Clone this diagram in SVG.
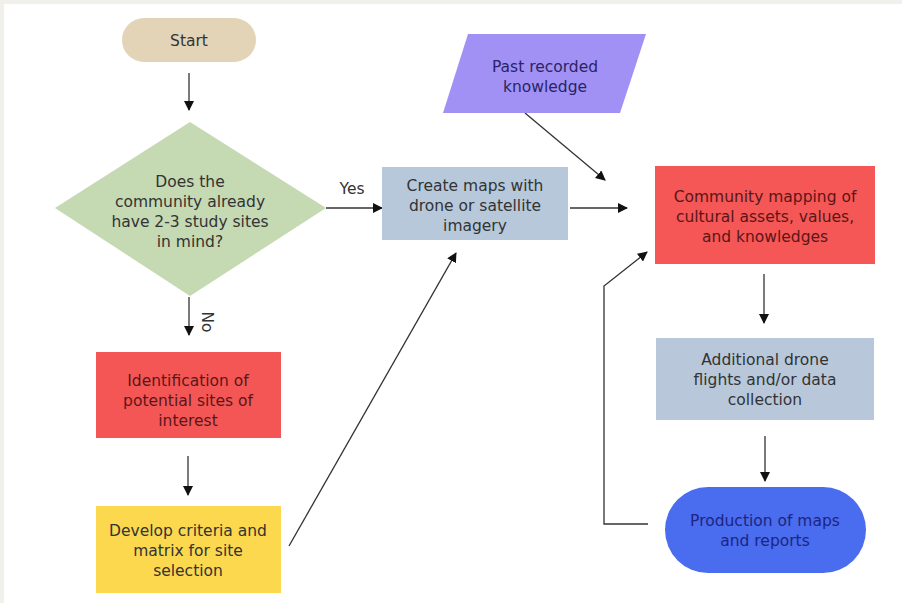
<svg xmlns="http://www.w3.org/2000/svg" width="902" height="603" viewBox="0 0 902 603">
<defs>
<marker id="ah" viewBox="0 0 10 10" refX="9" refY="5" markerWidth="10" markerHeight="10" markerUnits="userSpaceOnUse" orient="auto">
<path d="M0,0 L10,5 L0,10 z" fill="#111"/>
</marker>
<style>
.t{font-family:"DejaVu Sans",sans-serif;font-size:15.5px;text-anchor:middle;fill:#333}
.tr{fill:#5a1616}
.tp{fill:#2a2466}
.tb{fill:#1c2580}
.c{fill:none;stroke:#333;stroke-width:1.3;marker-end:url(#ah)}
</style>
</defs>
<rect x="0" y="0" width="902" height="603" fill="#f1f0eb"/>
<rect x="4" y="4" width="898" height="599" fill="#ffffff"/>
<g id="connectors">
<line class="c" x1="189" y1="73" x2="189" y2="110"/>
<line class="c" x1="326" y1="208" x2="382" y2="208"/>
<line class="c" x1="189" y1="297" x2="189" y2="335"/>
<line class="c" x1="188" y1="456" x2="188" y2="495"/>
<line class="c" x1="289" y1="546" x2="456" y2="253"/>
<line class="c" x1="525" y1="113" x2="605" y2="180"/>
<line class="c" x1="570" y1="208" x2="627" y2="208"/>
<line class="c" x1="764" y1="274" x2="764" y2="323"/>
<line class="c" x1="765" y1="436" x2="765" y2="481"/>
<polyline class="c" points="648,524 604,524 604,286 647,252"/>
<text class="t" x="352" y="194" font-size="12">Yes</text>
<text class="t" x="0" y="0" font-size="12" transform="translate(202,322) rotate(90)">No</text>
</g>
<g id="start">
<rect x="122" y="18" width="134" height="44" rx="22" fill="#e3d4b8"/>
<text class="t" x="189" y="46" font-size="16">Start</text>
</g>
<g id="decision">
<polygon points="190,122 326,208 190,296 55,208" fill="#c5d9b3"/>
<text class="t" x="190" y="187">Does the</text>
<text class="t" x="190" y="207">community already</text>
<text class="t" x="190" y="227">have 2-3 study sites</text>
<text class="t" x="190" y="247">in mind?</text>
</g>
<g id="create-maps">
<rect x="382" y="167" width="186" height="73" fill="#b6c8da"/>
<text class="t" x="475" y="191">Create maps with</text>
<text class="t" x="475" y="211">drone or satellite</text>
<text class="t" x="475" y="231">imagery</text>
</g>
<g id="identification">
<rect x="96" y="352" width="185" height="86" fill="#f45656"/>
<text class="t tr" x="188" y="386">Identification of</text>
<text class="t tr" x="188" y="406">potential sites of</text>
<text class="t tr" x="188" y="426">interest</text>
</g>
<g id="develop">
<rect x="96" y="506" width="185" height="87" fill="#fbd84e"/>
<text class="t" x="188" y="536">Develop criteria and</text>
<text class="t" x="188" y="556">matrix for site</text>
<text class="t" x="188" y="576">selection</text>
</g>
<g id="past-knowledge">
<polygon points="468,34 646,34 620,113 443,113" fill="#a191f5"/>
<text class="t tp" x="545" y="72">Past recorded</text>
<text class="t tp" x="545" y="92">knowledge</text>
</g>
<g id="community-mapping">
<rect x="655" y="166" width="220" height="98" fill="#f55656"/>
<text class="t tr" x="765" y="202">Community mapping of</text>
<text class="t tr" x="765" y="222">cultural assets, values,</text>
<text class="t tr" x="765" y="242">and knowledges</text>
</g>
<g id="additional">
<rect x="656" y="338" width="218" height="82" fill="#b8c8da"/>
<text class="t" x="765" y="365">Additional drone</text>
<text class="t" x="765" y="385">flights and/or data</text>
<text class="t" x="765" y="405">collection</text>
</g>
<g id="production">
<rect x="665" y="487" width="201" height="86" rx="43" fill="#4a6cef"/>
<text class="t tb" x="765" y="526">Production of maps</text>
<text class="t tb" x="765" y="546">and reports</text>
</g>
</svg>
